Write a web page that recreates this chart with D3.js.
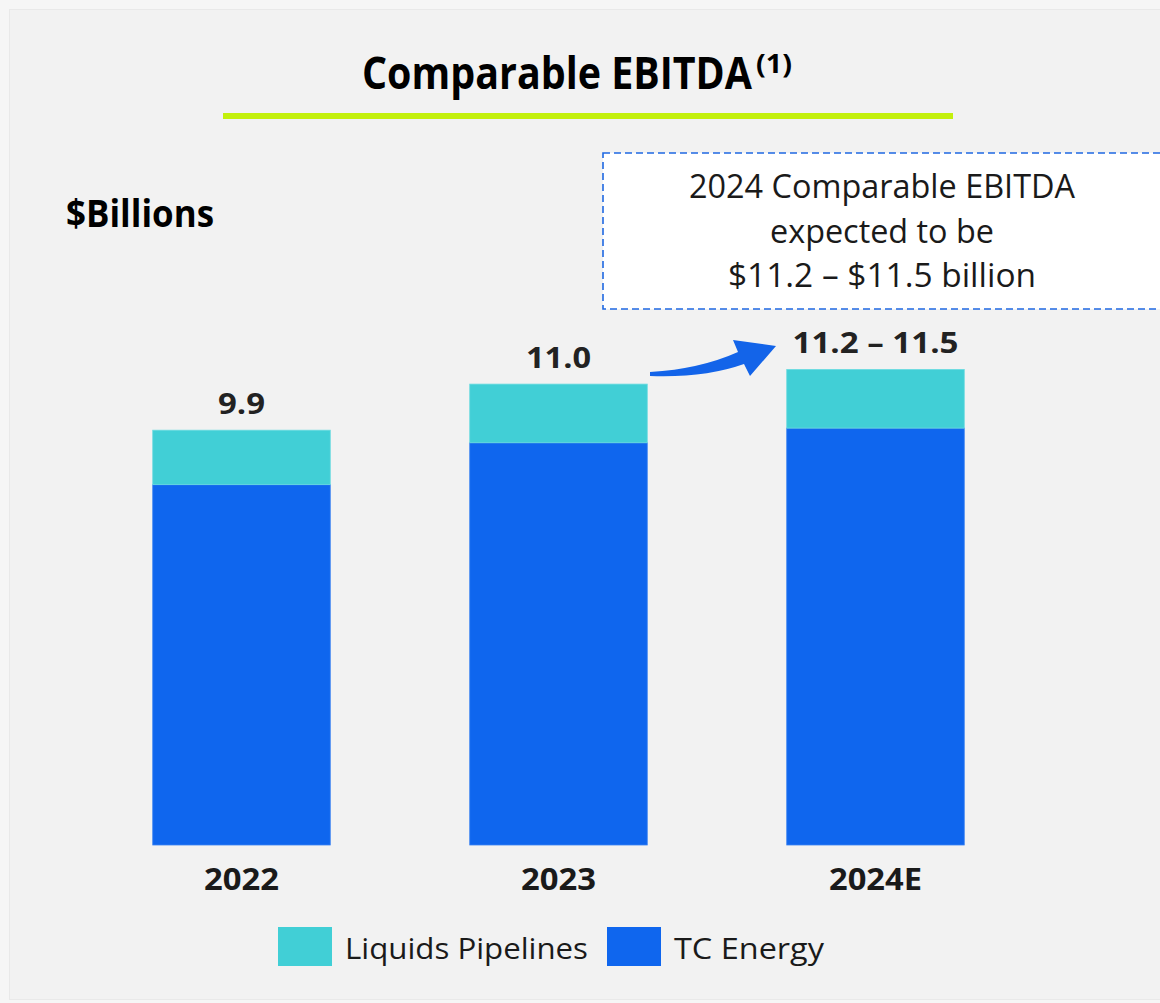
<!DOCTYPE html>
<html>
<head>
<meta charset="utf-8">
<script src="https://cdn.jsdelivr.net/npm/d3@7"></script>
<style>
  html, body { margin: 0; padding: 0; background: #f5f5f5; }
  svg { display: block; }
</style>
</head>
<body>
<svg id="chart" width="1160" height="1003"></svg>
<script>
// ---- data ($ billions) ----
const years = ["2022", "2023", "2024E"];
const tcEnergy = [8.6, 9.6, 9.95];
const liquidsPipelines = [1.3, 1.4, 1.4];
const totalLabels = ["9.9", "11.0", "11.2 \u2013 11.5"];
const seriesNames = ["Liquids Pipelines", "TC Energy"];
const calloutLines = ["2024 Comparable EBITDA", "expected to be", "$11.2 \u2013 $11.5 billion"];

const colors = { "TC Energy": "#0f66ee", "Liquids Pipelines": "#41cfd6" };
const FONT = "'Open Sans', 'Noto Sans', sans-serif";

const svg = d3.select("#chart");

// page panel
svg.append("rect").attr("x", 0).attr("y", 0).attr("width", 1160).attr("height", 1003).attr("fill", "#f6f6f6");
svg.append("rect").attr("x", 9.5).attr("y", 9.5).attr("width", 1170).attr("height", 990)
  .attr("fill", "#f2f2f2").attr("stroke", "#e9e9e9");

// squeeze a text element to a given width (Calibri-like proportions)
function fit(sel, w) { return sel.attr("textLength", w).attr("lengthAdjust", "spacingAndGlyphs"); }

// ---- title with superscript note marker ----
const title = svg.append("text").attr("x", 362).attr("y", 89)
  .attr("font-family", FONT).attr("font-weight", 700).attr("fill", "#000");
fit(title.append("tspan").attr("font-size", 44).text("Comparable EBITDA"), 390);
fit(title.append("tspan").attr("font-size", 26).attr("dx", 4).attr("dy", -16).text("(1)"), 36);
svg.append("rect").attr("x", 223).attr("y", 113).attr("width", 730).attr("height", 6).attr("fill", "#c3f00c");

// unit label
fit(svg.append("text").attr("x", 66).attr("y", 227)
  .attr("font-family", FONT).attr("font-weight", 700).attr("font-size", 37).attr("fill", "#000")
  .text("$Billions"), 148);

// ---- scales ----
const x = d3.scaleBand().domain(years).range([83, 1034]).paddingInner(0.44).paddingOuter(0.22);
const y = d3.scaleLinear().domain([0, 12]).range([845, 845 - 12 * 41.9]);

const rows = years.map((yr, i) => ({ year: yr, "TC Energy": tcEnergy[i], "Liquids Pipelines": liquidsPipelines[i] }));
const stacked = d3.stack().keys(["TC Energy", "Liquids Pipelines"])(rows);

const edge = { "TC Energy": "#3a82f2", "Liquids Pipelines": "#6adbe0" };
svg.append("g").selectAll("g").data(stacked).join("g")
  .attr("fill", d => colors[d.key])
  .selectAll("rect").data(d => d.map(p => ({ p, key: d.key }))).join("rect")
  .attr("x", d => x(d.p.data.year))
  .attr("width", x.bandwidth())
  .attr("y", d => y(d.p[1]))
  .attr("height", d => y(d.p[0]) - y(d.p[1]))
  .attr("stroke", d => edge[d.key]).attr("stroke-width", 0.8);

// totals above bars
const totals = years.map((yr, i) => tcEnergy[i] + liquidsPipelines[i]);
const labelWidths = [47, 65, 166];
svg.append("g").selectAll("text").data(years).join("text")
  .attr("x", d => x(d) + x.bandwidth() / 2)
  .attr("y", (d, i) => y(totals[i]) - 16)
  .attr("text-anchor", "middle")
  .attr("font-family", FONT).attr("font-weight", 700).attr("font-size", 28).attr("fill", "#222")
  .attr("textLength", (d, i) => labelWidths[i]).attr("lengthAdjust", "spacingAndGlyphs")
  .text((d, i) => totalLabels[i]);

// category axis
const axis = svg.append("g").attr("transform", "translate(0,845)")
  .call(d3.axisBottom(x).tickSize(0).tickPadding(24));
axis.select(".domain").remove();
axis.selectAll("text")
  .attr("font-family", FONT).attr("font-weight", 700).attr("font-size", 30).attr("fill", "#1a1a1a")
  .attr("textLength", d => d === "2024E" ? 93 : 75).attr("lengthAdjust", "spacingAndGlyphs");

// ---- callout box ----
svg.append("rect").attr("x", 603).attr("y", 153).attr("width", 600).attr("height", 156)
  .attr("fill", "#ffffff").attr("stroke", "#1f68e2").attr("stroke-width", 1.6)
  .attr("stroke-dasharray", "7 4");
const calloutWidths = [386, 224, 308];
svg.append("g").selectAll("text").data(calloutLines).join("text")
  .attr("x", 882).attr("y", (d, i) => 198 + i * 44.5)
  .attr("text-anchor", "middle")
  .attr("font-family", FONT).attr("font-size", 32).attr("fill", "#1a1a1a")
  .attr("textLength", (d, i) => calloutWidths[i]).attr("lengthAdjust", "spacingAndGlyphs")
  .text(d => d);

// curved arrow toward the 2024E bar
svg.append("path")
  .attr("d", "M650,372 Q700,369 738,352 L733,340 L776,346 L750,376 L744,364 Q705,378 650,376 Z")
  .attr("fill", "#1364e9");

// ---- legend ----
const legendX = [278, 607], legendTextW = [243, 150];
const legend = svg.append("g").selectAll("g").data(seriesNames).join("g");
legend.append("rect").attr("x", (d, i) => legendX[i]).attr("y", 927).attr("width", 54).attr("height", 39)
  .attr("fill", d => colors[d]);
legend.append("text").attr("x", (d, i) => legendX[i] + 67).attr("y", 959)
  .attr("font-family", FONT).attr("font-size", 30).attr("fill", "#1a1a1a")
  .attr("textLength", (d, i) => legendTextW[i]).attr("lengthAdjust", "spacingAndGlyphs")
  .text(d => d);
</script>
</body>
</html>
